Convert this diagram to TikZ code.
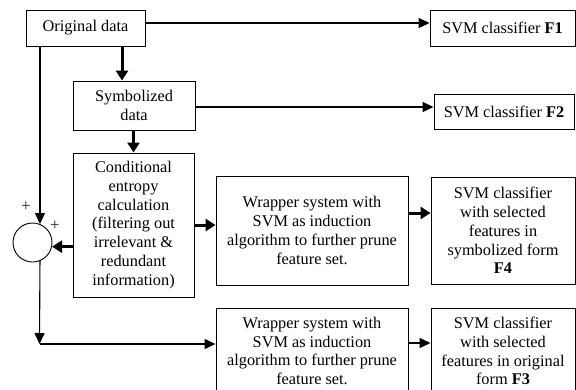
\documentclass[tikz,border=0pt]{standalone}
\usepackage{fontspec}
\setmainfont{Liberation Serif}
\usetikzlibrary{arrows.meta,calc}
\begin{document}
\begin{tikzpicture}[x=1pt,y=-1pt,
  box/.style={draw, line width=0.9pt, inner sep=0pt, align=center,
    font=\fontsize{16.3}{18.8}\selectfont},
  thin/.style={line width=1.1pt, -{Triangle[length=11pt,width=10pt]}},
  thick/.style={line width=3pt, -{Triangle[length=10pt,width=12pt]}},
  plus/.style={font=\fontsize{17}{17}\selectfont, text=black!85, inner sep=0pt}]
\useasboundingbox (0,0) rectangle (576,389);
\node[box, minimum width=119pt, minimum height=36pt] (orig) at (85.5,28) {Original data};
\node[box, minimum width=122pt, minimum height=49pt] (sym) at (134,105.5) {Symbolized\\data};
\node[box, minimum width=121pt, minimum height=144pt] (cond) at (133.5,225)
  {Conditional\\entropy\\calculation\\(filtering out\\irrelevant \&\\redundant\\information)};
\node[box, minimum width=192pt, minimum height=109pt] (wrap1) at (312,230.5)
  {Wrapper system with\\SVM as induction\\algorithm to further prune\\feature set.};
\node[box, minimum width=144pt, minimum height=107pt] (f4) at (503,230.5)
  {SVM classifier\\with selected\\features in\\symbolized form\\\textbf{F4}};
\node[box, minimum width=192pt, minimum height=86pt] (wrap2) at (312,351)
  {Wrapper system with\\SVM as induction\\algorithm to further prune\\feature set.};
\node[box, minimum width=144pt, minimum height=86pt] (f3) at (503,351)
  {SVM classifier\\with selected\\features in original\\form \textbf{F3}};
\node[box, minimum width=145pt, minimum height=36pt] (f1) at (502.5,28) {SVM classifier \textbf{F1}};
\node[box, minimum width=140pt, minimum height=35pt] (f2) at (504,111.5) {SVM classifier \textbf{F2}};
\node[draw, circle, line width=0.9pt, minimum size=39pt, inner sep=0pt] (circ) at (32.5,242.5) {};
\node[plus] (p1) at (26,207) {+};
\node[plus] (p2) at (55,226) {+};
\coordinate (corner) at (39.5,344);
\coordinate (o1) at ([yshift=5pt]orig.east);
\coordinate (s1) at ([yshift=-1.5pt]sym.east);
\coordinate (w1) at ([yshift=17.5pt]wrap1.east);
\coordinate (w2) at ([yshift=8pt]wrap2.east);
\coordinate (sn) at ([xshift=-12pt]sym.north);
% connectors
\draw[thin] (o1) -- (f1.west |- o1);
\draw[thick] (sn |- orig.south) -- (sn);
\draw[thin] (s1) -- (f2.west |- s1);
\draw[thick] (sym.south -| cond.north) -- (cond.north);
\draw[thick] (cond.east) -- (cond.east -| wrap1.west);
\draw[thick] (w1) -- (f4.west |- w1);
\draw[thick] (cond.west |- circ.-12) -- (circ.-12);
\draw[thin] (orig.south -| circ.68) -- (circ.68);
\draw[thin] (circ.-68) -- (corner);
\draw[thin] (corner) -- (wrap2.west |- corner);
\draw[thin] (w2) -- (f3.west |- w2);
\end{tikzpicture}
\end{document}
